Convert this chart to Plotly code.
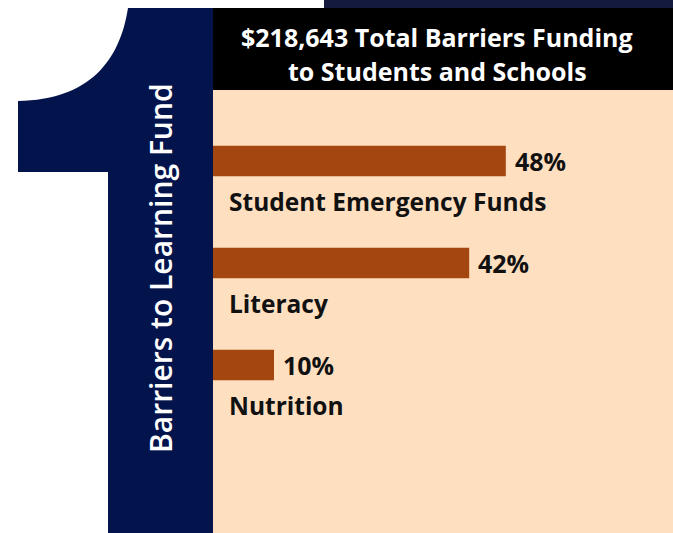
import plotly.graph_objects as go

W, H = 673, 533

categories = ["Student Emergency Funds", "Literacy", "Nutrition"]
shares = [48, 42, 10]
value_labels = ["48%", "42%", "10%"]
title_lines = ["$218,643 Total Barriers Funding", "to Students and Schools"]
side_title = "Barriers to Learning Fund"

NAVY = "#03144c"
PEACH = "#fee0c1"
BAR = "#a4460f"

def px(x):
    return x / W

def py(y):
    return 1 - y / H

positions = list(range(len(categories)))

fig = go.Figure()
fig.add_trace(go.Bar(
    x=shares, y=positions, orientation="h",
    marker=dict(color=BAR, line=dict(width=0)),
    width=0.3, hoverinfo="skip",
))

shapes = []
shapes.append(dict(type="rect", xref="paper", yref="paper",
                   x0=px(324), x1=1, y0=py(8), y1=1,
                   fillcolor="#141a3e", line=dict(width=0), layer="below"))
path = (f"M {px(18)},{py(101)} "
        f"C {px(90)},{py(100)} {px(120)},{py(60)} {px(128)},{py(8)} "
        f"L {px(213)},{py(8)} L {px(213)},{py(533)} L {px(108)},{py(533)} "
        f"L {px(108)},{py(172)} L {px(18)},{py(172)} Z")
shapes.append(dict(type="path", xref="paper", yref="paper", path=path,
                   fillcolor=NAVY, line=dict(width=0), layer="below"))
shapes.append(dict(type="rect", xref="paper", yref="paper",
                   x0=px(213), x1=1, y0=py(90), y1=py(8),
                   fillcolor="#000000", line=dict(width=0), layer="below"))
shapes.append(dict(type="rect", xref="paper", yref="paper",
                   x0=px(213), x1=1, y0=0, y1=py(90),
                   fillcolor=PEACH, line=dict(width=0), layer="below"))

annotations = []
for i, (v, lab, cat) in enumerate(zip(shares, value_labels, categories)):
    annotations.append(dict(x=v, y=i, xref="x", yref="y", text=lab,
                            showarrow=False, xanchor="left", yanchor="middle",
                            xshift=7,
                            font=dict(family="Open Sans", size=25, color="#111111", weight="bold")))
    annotations.append(dict(x=0, y=i + 0.4, xref="x", yref="y", text=cat,
                            showarrow=False, xanchor="left", yanchor="middle",
                            xshift=14,
                            font=dict(family="Open Sans", size=24.5, color="#111111", weight="bold")))

annotations.append(dict(x=px(437), y=py(37), xref="paper", yref="paper",
                        text=title_lines[0], showarrow=False,
                        xanchor="center", yanchor="middle",
                        font=dict(family="Open Sans", size=25, color="white", weight="bold")))
annotations.append(dict(x=px(437), y=py(71), xref="paper", yref="paper",
                        text=title_lines[1], showarrow=False,
                        xanchor="center", yanchor="middle",
                        font=dict(family="Open Sans", size=25, color="white", weight="bold")))
annotations.append(dict(x=px(160), y=py(268), xref="paper", yref="paper",
                        text=side_title, showarrow=False, textangle=-90,
                        xanchor="center", yanchor="middle",
                        font=dict(family="Open Sans", size=30, color="white", weight=600)))

fig.update_layout(
    width=W, height=H,
    margin=dict(l=0, r=0, t=0, b=0),
    paper_bgcolor="white", plot_bgcolor="rgba(0,0,0,0)",
    showlegend=False,
    shapes=shapes, annotations=annotations,
    xaxis=dict(domain=[px(213), 1], range=[0, 460 / 6.1], visible=False,
               fixedrange=True),
    yaxis=dict(domain=[0, py(90)], range=[(533 - 161) / 102, (90 - 161) / 102],
               visible=False, fixedrange=True),
)

fig.write_html("out.html", config={"displayModeBar": False},
               post_script="document.body.style.margin='0';document.body.style.overflow='hidden';")
